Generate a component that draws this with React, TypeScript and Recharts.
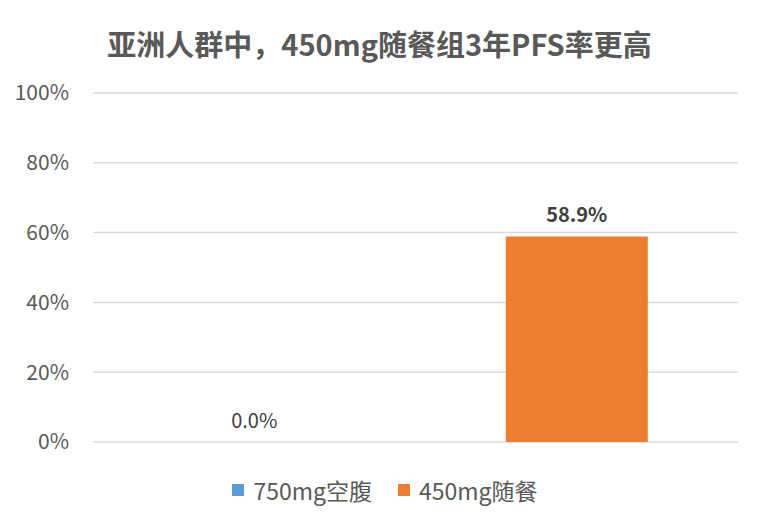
import React from 'react';
import { ComposedChart, Bar, Line, XAxis, YAxis, CartesianGrid, Legend, LabelList, Cell } from 'recharts';

const categories = ['750mg空腹', '450mg随餐'];
const pfsRates = [0, 58.9];
const colors = ['#5B9BD5', '#ED7D31'];
const yTicks = [0, 20, 40, 60, 80, 100];

const data = categories.map((name, i) => ({ name, rate: pfsRates[i] }));

const FONT = '"Noto Sans CJK SC", "Noto Sans", sans-serif';
const TEXT = '#595959';

const renderLegend = () => (
  <div
    style={{
      display: 'flex',
      justifyContent: 'center',
      alignItems: 'flex-start',
      boxSizing: 'border-box',
      height: 81,
      paddingTop: 33,
      paddingLeft: 32,
      fontSize: 23,
      lineHeight: '30px',
      fontFamily: FONT,
      color: TEXT,
    }}
  >
    {categories.map((c, i) => (
      <span key={c} style={{ display: 'inline-flex', alignItems: 'center', marginRight: i === 0 ? 26 : 0 }}>
        <span style={{ display: 'inline-block', width: 12, height: 12, background: colors[i], marginRight: 9 }} />
        {c}
      </span>
    ))}
  </div>
);

const renderValueLabel = (props: any) => {
  const { x, y, value, index } = props;
  return (
    <text
      x={x}
      y={y - 14}
      textAnchor="middle"
      fill="#404040"
      fontSize={20}
      fontWeight={index === 1 ? 700 : 400}
      fontFamily={FONT}
    >
      {`${Number(value).toFixed(1)}%`}
    </text>
  );
};

const App = () => {
  return (
    <div style={{ position: 'absolute', left: 0, top: 0, width: 759, height: 523, background: '#fff', fontFamily: FONT }}>
      <div
        style={{
          position: 'absolute',
          top: 22,
          left: 0,
          width: 759,
          textAlign: 'center',
          fontSize: 29,
          fontWeight: 700,
          color: TEXT,
        }}
      >
        亚洲人群中，450mg随餐组3年PFS率更高
      </div>
      <ComposedChart
        width={759}
        height={523}
        data={data}
        margin={{ top: 93, right: 21, bottom: 0, left: 0 }}
        barCategoryGap="28%"
      >
        <CartesianGrid vertical={false} stroke="#D9D9D9" strokeWidth={1.5} />
        <XAxis dataKey="name" hide />
        <YAxis
          domain={[0, 100]}
          ticks={yTicks}
          width={93}
          axisLine={false}
          tickLine={false}
          tickSize={0}
          tickMargin={24}
          tickFormatter={(v) => `${v}%`}
          tick={{ fill: TEXT, fontSize: 21, fontFamily: FONT }}
        />
        <Legend verticalAlign="bottom" content={renderLegend} />
        <Bar dataKey="rate" isAnimationActive={false}>
          {data.map((d, i) => (
            <Cell key={d.name} fill={colors[i]} />
          ))}
        </Bar>
        {/* invisible line only carries the value labels (zero-height bars get none) */}
        <Line
          dataKey="rate"
          stroke="none"
          dot={false}
          activeDot={false}
          legendType="none"
          isAnimationActive={false}
        >
          <LabelList dataKey="rate" content={renderValueLabel} />
        </Line>
      </ComposedChart>
    </div>
  );
};

export default App;
